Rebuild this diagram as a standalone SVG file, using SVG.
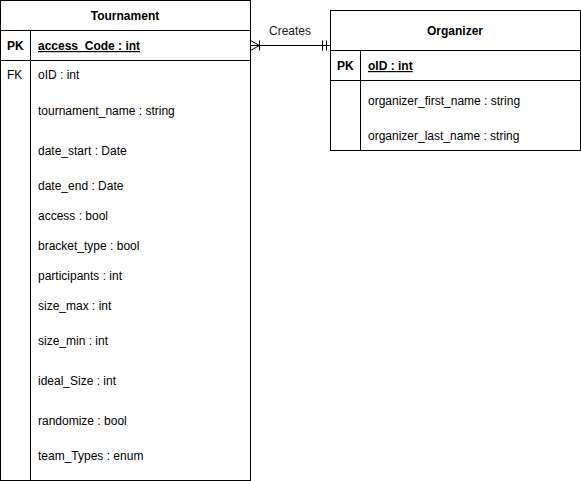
<svg xmlns="http://www.w3.org/2000/svg" width="581" height="481" viewBox="0 0 581 481">
<style>
.box{fill:#fff;stroke:#000;stroke-width:1}
.ln{stroke:#000;stroke-width:1;fill:none}
text{font-family:"Liberation Sans",Arial,sans-serif;font-size:12px;fill:#000}
.t{font-weight:bold;text-anchor:middle}
.k{font-weight:bold}
.u{text-decoration:underline;font-weight:bold}
.lbl{font-size:12px;fill:#222;text-anchor:middle}
</style>
<rect width="581" height="481" fill="#fff"/>
<g id="tournament">
<rect class="box" x="0.5" y="0.5" width="250" height="480"/>
<line class="ln" x1="0.5" y1="30.5" x2="250.5" y2="30.5"/>
<line class="ln" x1="0.5" y1="60.5" x2="250.5" y2="60.5"/>
<line class="ln" x1="30.5" y1="30.5" x2="30.5" y2="480.5"/>
<text class="t" x="125" y="20">Tournament</text>
<text class="k" x="7" y="50">PK</text>
<text class="u" x="38" y="50">access_Code : int</text>
<text x="7" y="79">FK</text>
<text x="38" y="79">oID : int</text>
<text x="38" y="115">tournament_name : string</text>
<text x="38" y="155">date_start : Date</text>
<text x="38" y="190">date_end : Date</text>
<text x="38" y="220">access : bool</text>
<text x="38" y="250">bracket_type : bool</text>
<text x="38" y="280">participants : int</text>
<text x="38" y="310">size_max : int</text>
<text x="38" y="345">size_min : int</text>
<text x="38" y="385">ideal_Size : int</text>
<text x="38" y="425">randomize : bool</text>
<text x="38" y="460">team_Types : enum</text>
</g>
<g id="organizer">
<rect class="box" x="330.5" y="10.5" width="250" height="140"/>
<line class="ln" x1="330.5" y1="50.5" x2="580.5" y2="50.5"/>
<line class="ln" x1="330.5" y1="80.5" x2="580.5" y2="80.5"/>
<line class="ln" x1="360.5" y1="50.5" x2="360.5" y2="150.5"/>
<text class="t" x="455" y="35">Organizer</text>
<text class="k" x="337" y="70">PK</text>
<text class="u" x="368" y="70">oID : int</text>
<text x="368" y="105">organizer_first_name : string</text>
<text x="368" y="140">organizer_last_name : string</text>
</g>
<g id="connectors">
<line class="ln" x1="250.5" y1="45.5" x2="330.5" y2="45.5"/>
<polyline class="ln" points="250.5,40.5 259.5,45.5 250.5,50.5"/>
<line class="ln" x1="259.5" y1="40.5" x2="259.5" y2="50.5"/>
<line class="ln" x1="322.5" y1="40.5" x2="322.5" y2="50.5"/>
<line class="ln" x1="326.5" y1="40.5" x2="326.5" y2="50.5"/>
<text class="lbl" x="290" y="35">Creates</text>
</g>
</svg>
